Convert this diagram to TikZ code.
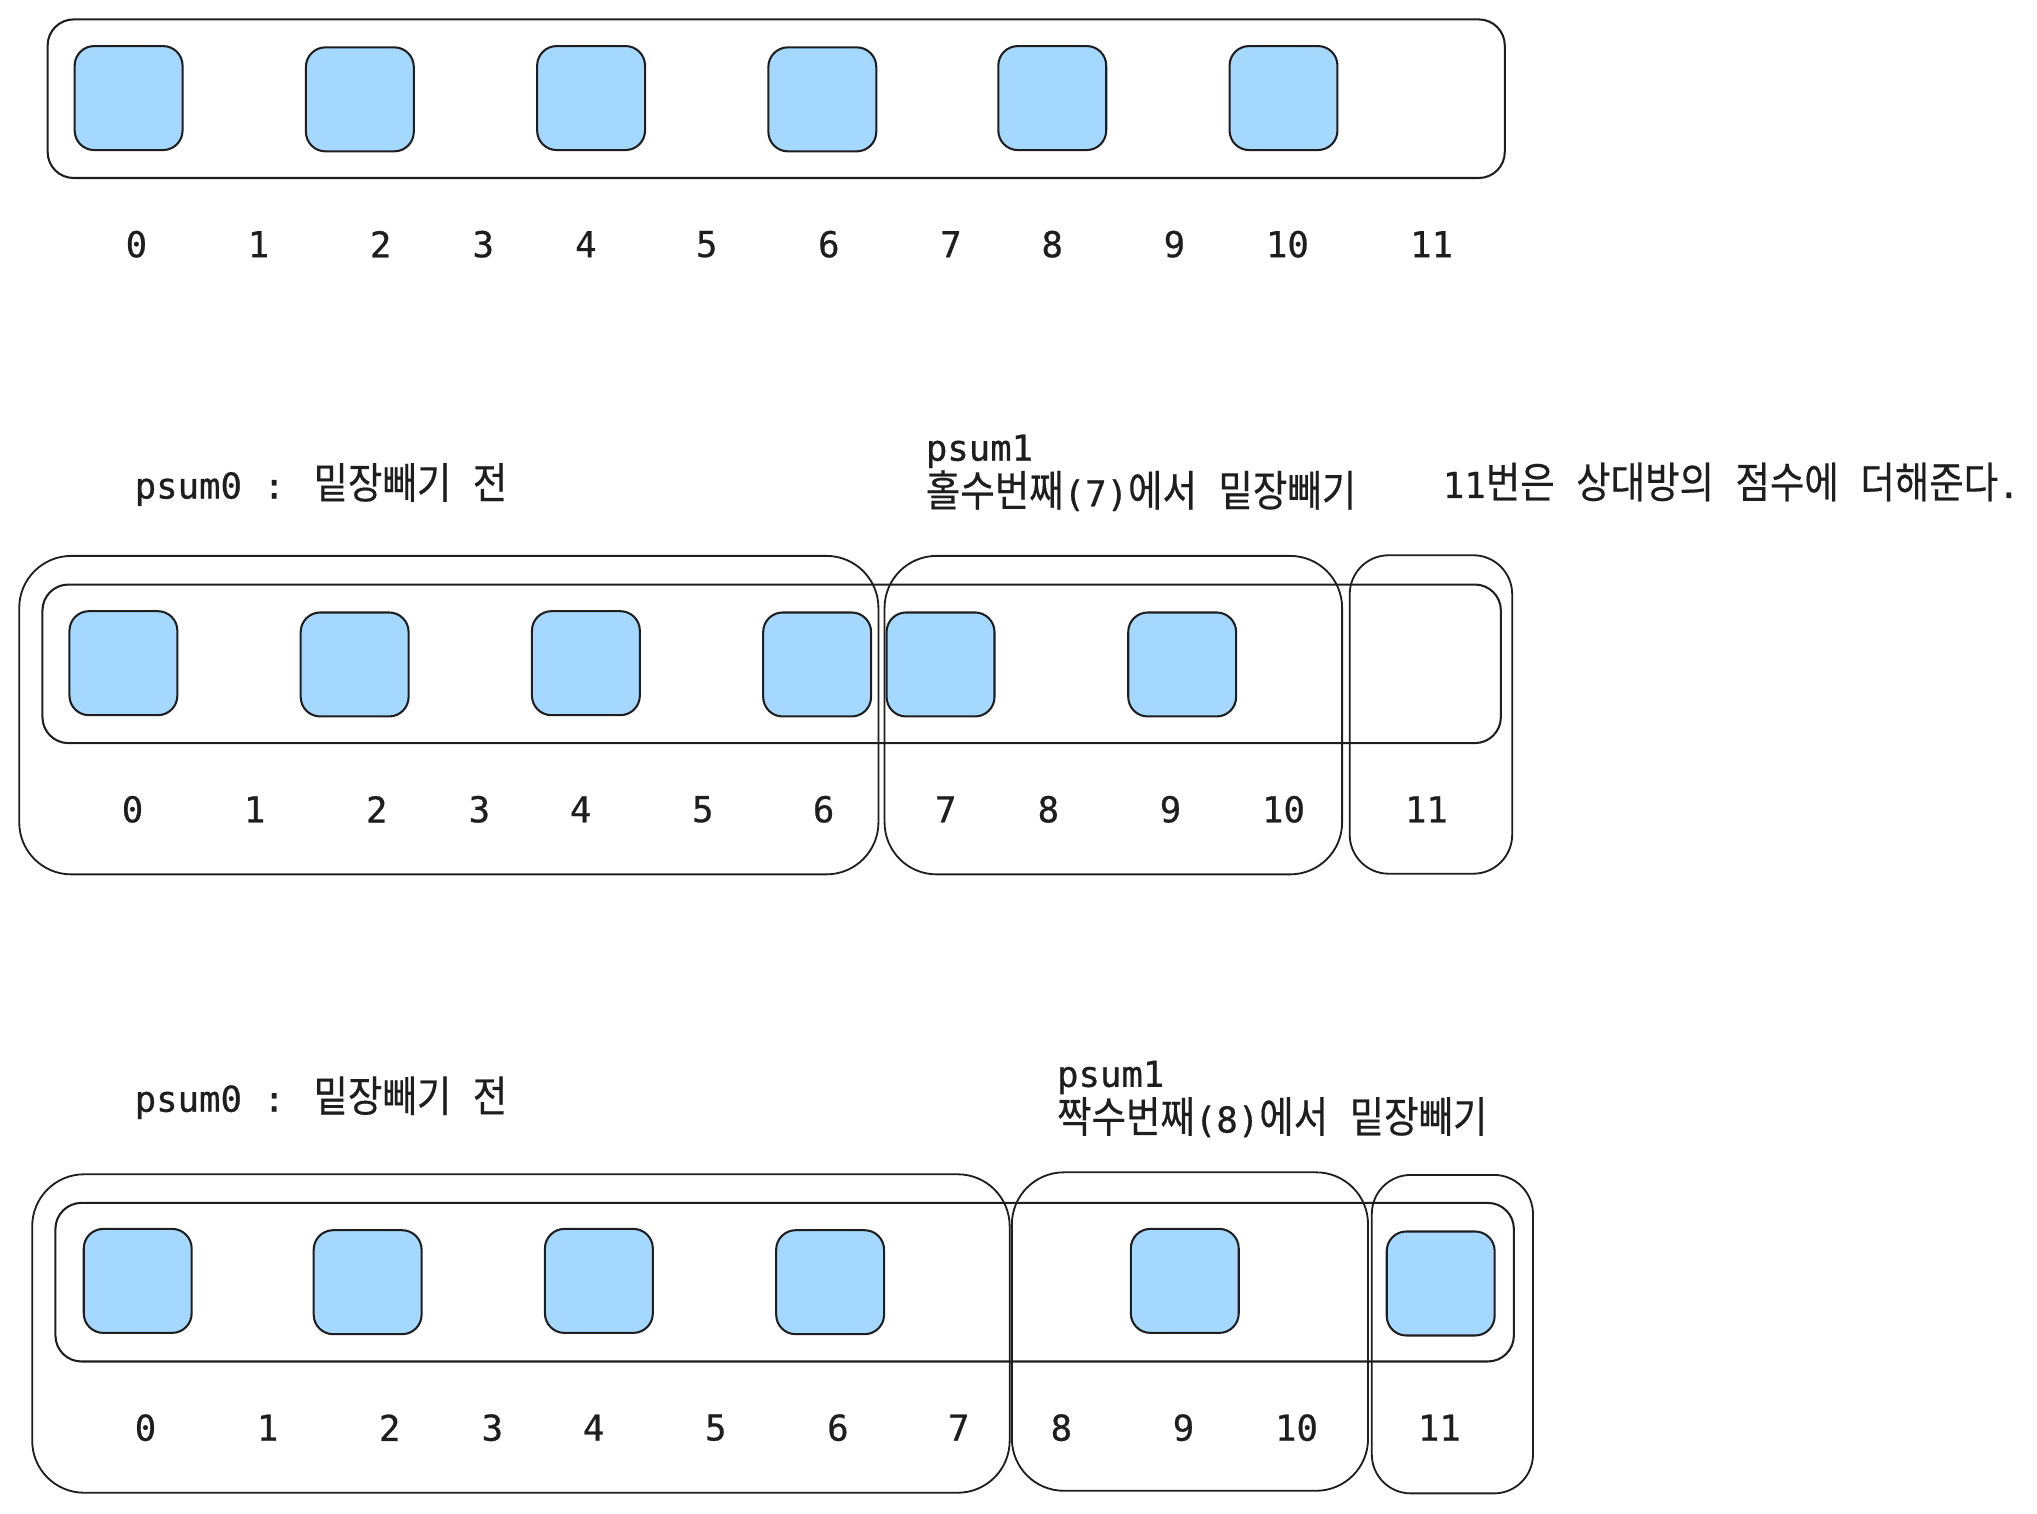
\documentclass[tikz,border=0pt]{standalone}
\usepackage{fontspec}
\setmainfont{DejaVu Sans Mono}[UprightFeatures={FakeBold=0.7}]
\newfontfamily\krfont{Noto Sans CJK KR}[Scale=1.2,FakeStretch=0.876,UprightFeatures={FakeBold=0.4}]
\usetikzlibrary{positioning}
\definecolor{cellblue}{HTML}{A5D8FF}
\definecolor{ink}{HTML}{1E1E1E}

\begin{document}
\begin{tikzpicture}[
		x=0.01cm, y=-0.01cm,
		% Style definitions
		cell/.style={draw=ink, fill=cellblue, line width=0.45pt, rounded corners=0.15cm, minimum width=0.83cm, minimum height=0.8cm, inner sep=0pt},
		strip/.style={draw=ink, line width=0.45pt, rounded corners=0.2cm, minimum height=1.22cm, inner sep=0pt},
		segbox/.style={draw=ink, line width=0.4pt, rounded corners=0.4cm, minimum height=2.45cm, inner sep=0pt},
		idx/.style={font=\fontsize{7.8}{10}\selectfont, text=ink, inner sep=0pt},
		note/.style={font=\fontsize{7.8}{10}\selectfont, text=ink, align=left, anchor=west, inner sep=0pt},
		]
		\useasboundingbox (0,0) rectangle (1568,1165);

		% === ROW 1: whole array ===
		\node[strip, minimum width=11.21cm] (strip1) at (597.5,76) {};
		\node[cell] (r1b0) at (99,75.5) {};
		\node[cell] (r1b2) at (277,76.5) {};
		\node[cell] (r1b4) at (455,75.5) {};
		\node[cell] (r1b6) at (633,76.5) {};
		\node[cell] (r1b8) at (810,75.5) {};
		\node[cell] (r1b10) at (988,75.5) {};
		\node[idx] (r1i0) at (105,188) {0};
		\node[idx] (r1i1) at (199,188) {1};
		\node[idx] (r1i2) at (293,188) {2};
		\node[idx] (r1i3) at (372,188) {3};
		\node[idx] (r1i4) at (451,188) {4};
		\node[idx] (r1i5) at (544,188) {5};
		\node[idx] (r1i6) at (638,188) {6};
		\node[idx] (r1i7) at (732,188) {7};
		\node[idx] (r1i8) at (810,188) {8};
		\node[idx] (r1i9) at (904,188) {9};
		\node[idx] (r1i10) at (991,188) {10};
		\node[idx] (r1i11) at (1102,188) {11};

		% === ROW 2: cut at odd position (7) ===
		\node[note] (r2psum0) at (103,373) {psum0 : {\krfont 밑장빼기} {\krfont 전}};
		\node[note] (r2psum1) at (712,364) {psum1\\{\krfont 홀수번째}(7){\krfont 에서} {\krfont 밑장빼기}};
		\node[note] (r2rest) at (1110,371) {11{\krfont 번은} {\krfont 상대방의} {\krfont 점수에} {\krfont 더해준다}.};
		\node[segbox, minimum width=6.61cm] (r2segA) at (345.5,550.5) {};
		\node[segbox, minimum width=3.52cm] (r2segB) at (857,550.5) {};
		\node[segbox, minimum width=1.25cm, rounded corners=0.3cm] (r2segC) at (1101.5,550) {};
		\node[strip, minimum width=11.22cm] (strip2) at (594,511) {};
		\node[cell] (r2b0) at (95,510.5) {};
		\node[cell] (r2b2) at (273,511.5) {};
		\node[cell] (r2b4) at (451,510.5) {};
		\node[cell] (r2b6) at (629,511.5) {};
		\node[cell] (r2b7) at (724,511.5) {};
		\node[cell] (r2b9) at (910,511.5) {};
		\node[idx] (r2i0) at (102,623) {0};
		\node[idx] (r2i1) at (196,623) {1};
		\node[idx] (r2i2) at (290,623) {2};
		\node[idx] (r2i3) at (369,623) {3};
		\node[idx] (r2i4) at (447,623) {4};
		\node[idx] (r2i5) at (541,623) {5};
		\node[idx] (r2i6) at (634,623) {6};
		\node[idx] (r2i7) at (728,623) {7};
		\node[idx] (r2i8) at (807,623) {8};
		\node[idx] (r2i9) at (901,623) {9};
		\node[idx] (r2i10) at (988,623) {10};
		\node[idx] (r2i11) at (1098,623) {11};

		% === ROW 3: cut at even position (8) ===
		\node[note] (r3psum0) at (103,845) {psum0 : {\krfont 밑장빼기} {\krfont 전}};
		\node[note] (r3psum1) at (813,846) {psum1\\{\krfont 짝수번째}(8){\krfont 에서} {\krfont 밑장빼기}};
		\node[segbox, minimum width=7.52cm] (r3segA) at (401,1026.5) {};
		\node[segbox, minimum width=2.74cm] (r3segB) at (916,1025) {};
		\node[segbox, minimum width=1.24cm, rounded corners=0.3cm] (r3segC) at (1118,1027) {};
		\node[strip, minimum width=11.22cm] (strip3) at (604,987) {};
		\node[cell] (r3b0) at (106,986) {};
		\node[cell] (r3b2) at (283,987) {};
		\node[cell] (r3b4) at (461,986) {};
		\node[cell] (r3b6) at (639,987) {};
		\node[cell] (r3b9) at (912,986) {};
		\node[cell] (r3b11) at (1109,988) {};
		\node[idx] (r3i0) at (112,1099) {0};
		\node[idx] (r3i1) at (206,1099) {1};
		\node[idx] (r3i2) at (300,1099) {2};
		\node[idx] (r3i3) at (379,1099) {3};
		\node[idx] (r3i4) at (457,1099) {4};
		\node[idx] (r3i5) at (551,1099) {5};
		\node[idx] (r3i6) at (645,1099) {6};
		\node[idx] (r3i7) at (738,1099) {7};
		\node[idx] (r3i8) at (817,1099) {8};
		\node[idx] (r3i9) at (911,1099) {9};
		\node[idx] (r3i10) at (998,1099) {10};
		\node[idx] (r3i11) at (1108,1099) {11};

	\end{tikzpicture}
\end{document}
